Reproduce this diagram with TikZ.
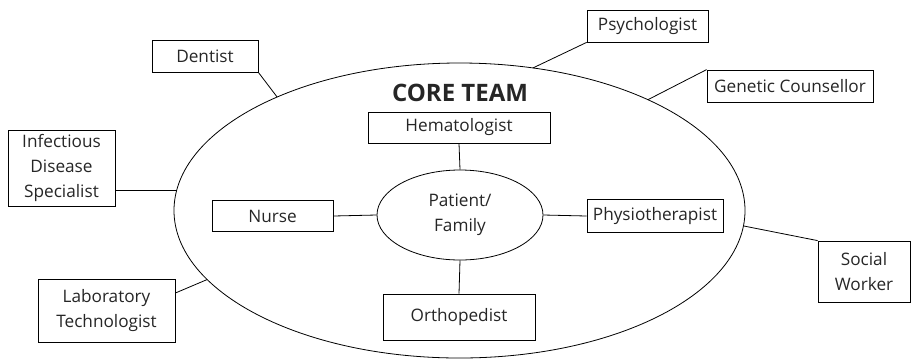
\documentclass[tikz,border=0pt]{standalone}
\usepackage{fontspec}
\setmainfont{Open Sans}
\usetikzlibrary{shapes.geometric,calc}
\begin{document}
\begin{tikzpicture}[x=1pt,y=-1pt,
  every node/.style={font=\fontsize{17.2}{25}\selectfont, text=black!85},
  lbl/.style={draw, line width=0.8pt, inner sep=0pt, align=center},
  conn/.style={line width=0.8pt}]
\useasboundingbox (0,0) rectangle (917,360);
% big ellipse
\node[draw, ellipse, line width=0.8pt, minimum width=571pt, minimum height=295pt, inner sep=0pt] (big) at (459.5,210.5) {};
\node[font=\fontsize{24}{28}\selectfont\bfseries, text=black!85] (core) at (460,93) {CORE TEAM};
% patient
\node[draw, ellipse, line width=0.8pt, minimum width=166pt, minimum height=90pt, inner sep=0pt, align=center] (pat) at (460,215) {Patient/\\Family};
% core boxes
\node[lbl, minimum width=182pt, minimum height=31pt] (hem) at (459,127.5) {Hematologist};
\node[lbl, minimum width=121pt, minimum height=31pt] (nur) at (272.5,216) {Nurse};
\node[lbl, minimum width=136pt, minimum height=33pt] (phy) at (655,216) {Physiotherapist};
\node[lbl, minimum width=152pt, minimum height=46pt] (ort) at (459,317) {Orthopedist};
% outer boxes
\node[lbl, minimum width=106pt, minimum height=32pt] (den) at (205,56) {Dentist};
\node[lbl, minimum width=121pt, minimum height=32pt] (psy) at (647.5,26) {Psychologist};
\node[lbl, minimum width=166pt, minimum height=32pt] (gen) at (790,86) {Genetic Counsellor};
\node[lbl, minimum width=107pt, minimum height=76pt] (inf) at (61.5,168) {Infectious\\Disease\\Specialist};
\node[lbl, minimum width=137pt, minimum height=63pt] (lab) at (106.5,310.5) {Laboratory\\Technologist};
\node[lbl, minimum width=92pt, minimum height=61pt] (soc) at (864,271.5) {Social\\Worker};
% points on big ellipse
\coordinate (eD) at ($(big.center)+(-129.7:285.5 and 147.5)$);
\coordinate (eP) at ($(big.center)+(-75.1:285.5 and 147.5)$);
\coordinate (eG) at ($(big.center)+(-48.7:285.5 and 147.5)$);
\coordinate (eI) at ($(big.center)+(-172:285.5 and 147.5)$);
\coordinate (eL) at ($(big.center)+(-207.9:285.5 and 147.5)$);
\coordinate (eS) at ($(big.center)+(6:285.5 and 147.5)$);
% connectors
\draw[conn] (hem.south) -- (pat.north);
\draw[conn] (ort.north) -- (pat.south);
\draw[conn] (nur.east) -- (pat.west);
\draw[conn] (phy.west) -- (pat.east);
\draw[conn] (den.south east) -- (eD);
\draw[conn] (psy.south west) -- (eP);
\draw[conn] (gen.north west) -- (eG);
\draw[conn] (inf.east |- eI) -- (eI);
\draw[conn] ([yshift=17.5pt]lab.east) -- (eL);
\draw[conn] (soc.north west) -- (eS);
\end{tikzpicture}
\end{document}
